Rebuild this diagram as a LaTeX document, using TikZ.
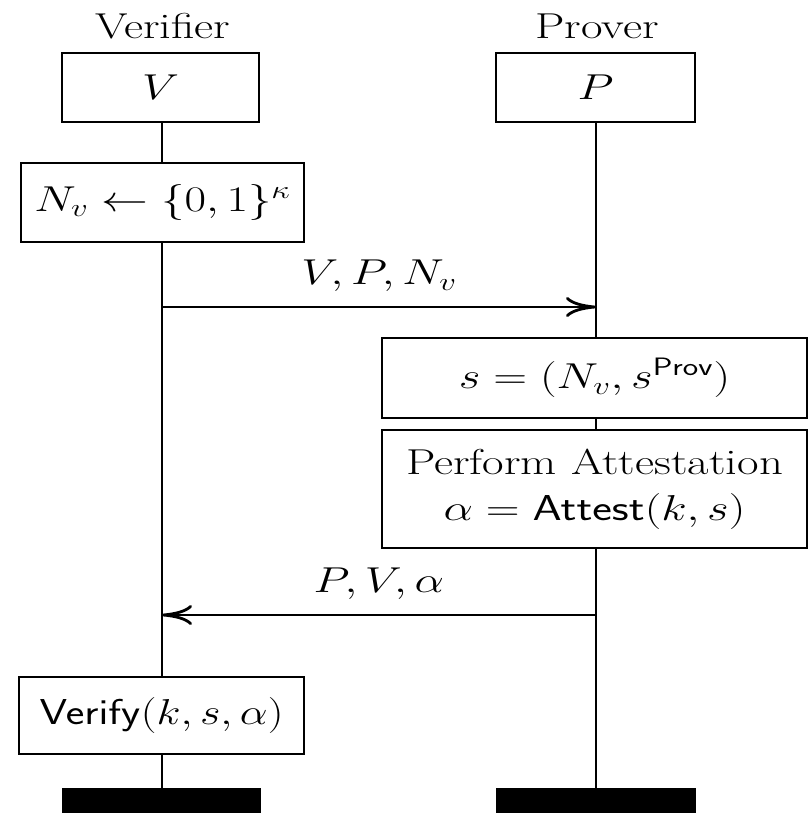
\documentclass[tikz,border=0pt]{standalone}
\usepackage{fix-cm}
\usetikzlibrary{arrows.meta}
\tikzset{
  every node/.style={font=\fontsize{36}{46}\selectfont},
  box/.style={draw, fill=white, line width=2.8pt, inner sep=0pt, align=center, xscale=1.3},
  txt/.style={inner sep=0pt, xscale=1.3},
  life/.style={line width=2.8pt},
  msg/.style={line width=2.8pt, -{Computer Modern Rightarrow[length=30pt,width=20pt]}},
  endbar/.style={fill=black, draw=none, inner sep=0pt, minimum height=40pt}
}
\begin{document}
\begin{tikzpicture}[x=1pt,y=-1pt]
\useasboundingbox (0,0) rectangle (809,813);
\clip (0,0) rectangle (809,813);
% headers
\node[txt] (vt) at (163,26) {Verifier};
\node[txt] (pt) at (597,26) {Prover};
\node[box, minimum width={197pt/1.3}, minimum height=69pt] (V) at (160.5,87.5) {$V$};
\node[box, minimum width={199pt/1.3}, minimum height=69pt] (P) at (595.5,87.5) {$P$};
% verifier boxes
\node[box, minimum width={283pt/1.3}, minimum height=79pt] (Nv) at (162.5,202.5) {$N_v \leftarrow \{0,1\}^\kappa$};
\node[box, xscale=1.23/1.3, minimum width={285pt/1.23}, minimum height=77pt] (Ver) at (161.5,715.5) {$\mathsf{Verify}(k,s,\alpha)$};
% prover boxes
\node[box, minimum width={425pt/1.3}, minimum height=80pt] (S) at (594.5,378) {$s = (N_v, s^{\mathsf{Prov}})$};
\node[box, minimum width={425pt/1.3}, minimum height=118pt] (Att) at (594.5,489) {Perform Attestation\\$\alpha = \mathsf{Attest}(k,s)$};
% end bars
\node[endbar, minimum width=199pt] (bV) at (161.5,808) {};
\node[endbar, minimum width=200pt] (bP) at (596,808) {};
% lifelines
\coordinate (vtop) at (162,122);
\coordinate (ptop) at (596,122);
\draw[life] (vtop) -- (162,163);
\draw[life] (162,242) -- (162,677);
\draw[life] (162,754) -- (162,788);
\draw[life] (ptop) -- (596,338);
\draw[life] (596,418) -- (596,430);
\draw[life] (596,548) -- (596,788);
% messages
\coordinate (m1s) at (162,307);
\coordinate (m1e) at (596,307);
\coordinate (m2s) at (596,615);
\coordinate (m2e) at (162,615);
\draw[msg] (m1s) -- node[txt, above=14pt] (l1) {$V, P, N_v$} (m1e);
\draw[msg] (m2s) -- node[txt, above=14pt] (l2) {$P, V, \alpha$} (m2e);
\end{tikzpicture}
\end{document}
